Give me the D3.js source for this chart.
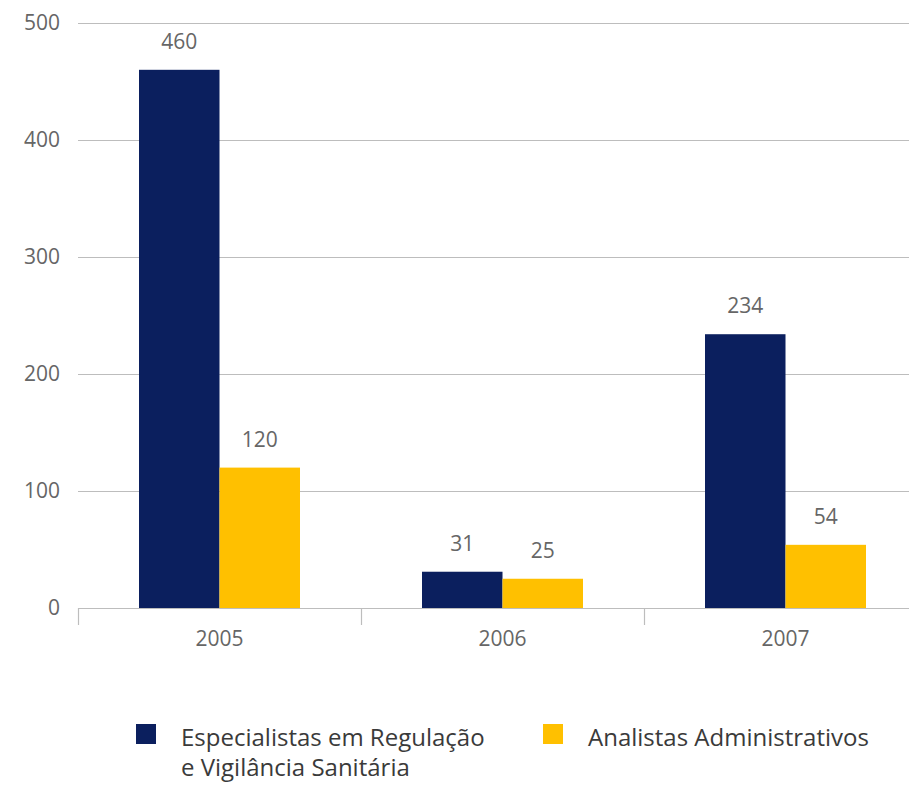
<!DOCTYPE html>
<html>
<head>
<meta charset="utf-8">
<script src="https://cdn.jsdelivr.net/npm/d3@7"></script>
<style>
  body { margin: 0; background: #fff; }
  text { font-family: "Open Sans", sans-serif; }
</style>
</head>
<body>
<div class="chart"></div>
<script>
// data
var years = ["2005", "2006", "2007"];
var seriesNames = ["Especialistas em Regulação e Vigilância Sanitária", "Analistas Administrativos"];
var especialistas = [460, 31, 234];
var analistas = [120, 25, 54];
var yTicks = [0, 100, 200, 300, 400, 500];
var colors = ["#0b1f5e", "#ffc000"];

var width = 909, height = 789;
var margin = {top: 23, left: 78, bottom: 181};

var svg = d3.select(".chart")
  .append("svg")
    .attr("width", width)
    .attr("height", height);

var x = d3.scaleBand()
  .domain(years)
  .range([margin.left, margin.left + 283 * years.length]);

var xSeries = d3.scaleBand()
  .domain([0, 1])
  .range([61, 222]);

var y = d3.scaleLinear()
  .domain([0, 500])
  .range([height - margin.bottom, margin.top]);

// gridlines
svg.append("g")
  .selectAll("line")
  .data(yTicks.filter(function(d) { return d > 0; }))
  .enter().append("line")
    .attr("x1", margin.left)
    .attr("x2", width)
    .attr("y1", function(d) { return y(d) + 0.5; })
    .attr("y2", function(d) { return y(d) + 0.5; })
    .attr("stroke", "#bdbdbd")
    .attr("stroke-width", 1.2);

// y labels
svg.append("g")
  .selectAll("text")
  .data(yTicks)
  .enter().append("text")
    .attr("x", 60)
    .attr("y", function(d) { return y(d) + 7; })
    .attr("text-anchor", "end")
    .attr("font-size", 21)
    .attr("fill", "#666")
    .text(function(d) { return d; });

// bars
var rows = years.map(function(yr, i) {
  return [especialistas[i], analistas[i]];
});

var groups = svg.append("g")
  .selectAll("g")
  .data(rows)
  .enter().append("g")
    .attr("transform", function(d, i) { return "translate(" + x(years[i]) + ",0)"; });

groups.selectAll("rect")
  .data(function(d) { return d; })
  .enter().append("rect")
    .attr("x", function(d, j) { return xSeries(j); })
    .attr("width", xSeries.bandwidth())
    .attr("y", function(d) { return y(d); })
    .attr("height", function(d) { return y(0) - y(d); })
    .attr("fill", function(d, j) { return colors[j]; });

groups.selectAll("text")
  .data(function(d) { return d; })
  .enter().append("text")
    .attr("x", function(d, j) { return xSeries(j) + xSeries.bandwidth() / 2; })
    .attr("y", function(d) { return y(d) - 21; })
    .attr("text-anchor", "middle")
    .attr("font-size", 21)
    .attr("fill", "#666")
    .text(function(d) { return d; });

// x axis
var axis = svg.append("g");
axis.append("line")
  .attr("x1", margin.left)
  .attr("x2", width)
  .attr("y1", y(0) + 0.5)
  .attr("y2", y(0) + 0.5)
  .attr("stroke", "#bdbdbd")
  .attr("stroke-width", 1.2);

axis.selectAll(".tick")
  .data(years)
  .enter().append("line")
    .attr("x1", function(d) { return x(d) + 0.5; })
    .attr("x2", function(d) { return x(d) + 0.5; })
    .attr("y1", y(0))
    .attr("y2", y(0) + 17)
    .attr("stroke", "#bdbdbd")
    .attr("stroke-width", 1.2);

axis.selectAll("text")
  .data(years)
  .enter().append("text")
    .attr("x", function(d) { return x(d) + x.bandwidth() / 2; })
    .attr("y", y(0) + 38)
    .attr("text-anchor", "middle")
    .attr("font-size", 21)
    .attr("fill", "#666")
    .text(function(d) { return d; });

// legend
var legend = svg.append("g");
var legendItems = [
  {x: 136, lines: ["Especialistas em Regulação", "e Vigilância Sanitária"]},
  {x: 543, lines: ["Analistas Administrativos"]}
];
legendItems.forEach(function(item, i) {
  legend.append("rect")
    .attr("x", item.x)
    .attr("y", 724)
    .attr("width", 20)
    .attr("height", 20)
    .attr("fill", colors[i]);
  item.lines.forEach(function(line, k) {
    legend.append("text")
      .attr("x", item.x + 45)
      .attr("y", 746 + k * 30)
      .attr("font-size", 24)
      .attr("fill", "#3a3a3a")
      .text(line);
  });
});
</script>
</body>
</html>
